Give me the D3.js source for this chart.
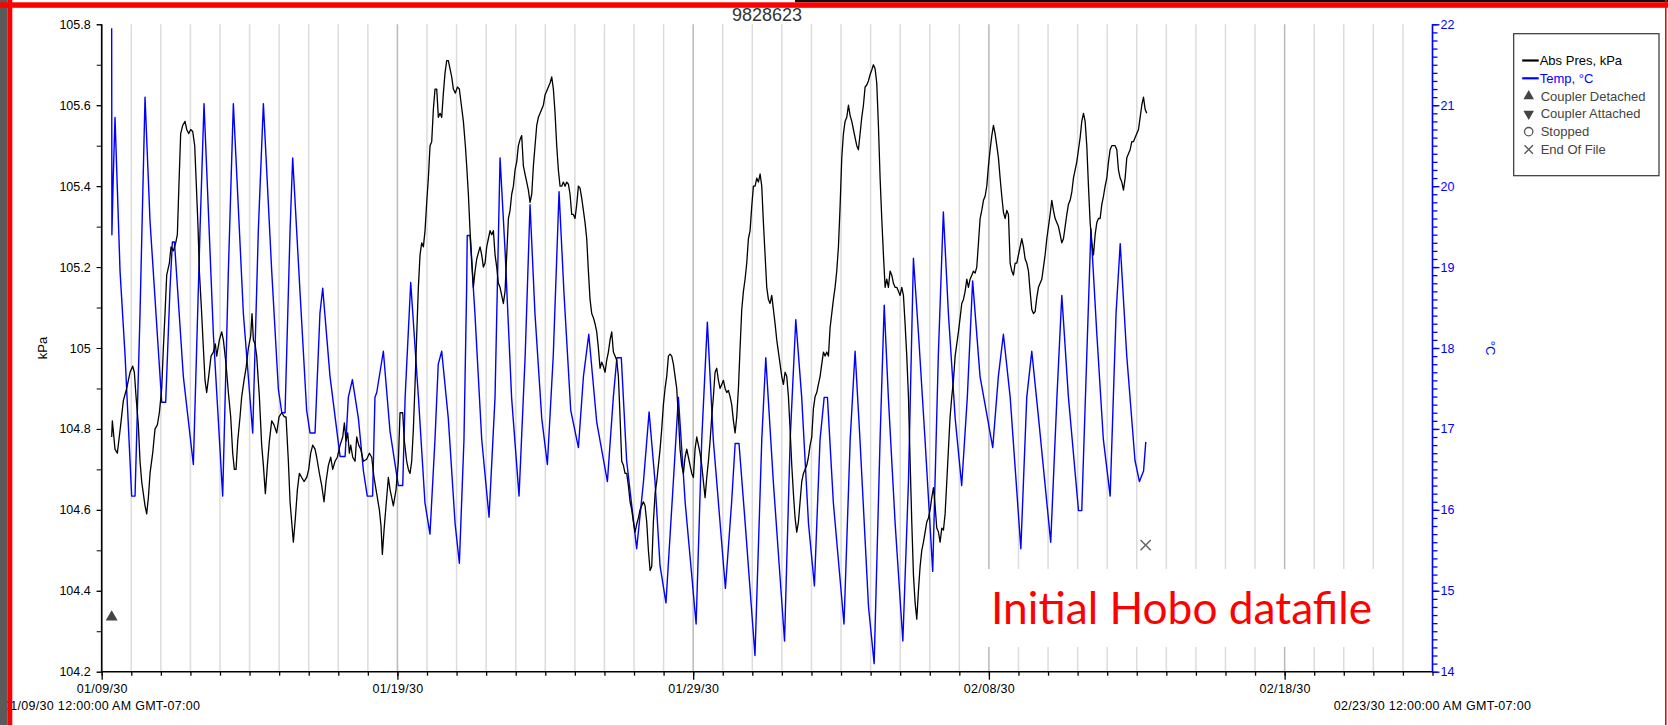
<!DOCTYPE html>
<html>
<head>
<meta charset="UTF-8">
<style>
body{
	margin: 0;
	background: #fff;
	font-family: "Liberation Sans", Arial, sans-serif;
}
svg{
	display: block;
}
.axis text{
	font-family: "Liberation Sans", Arial, sans-serif;
	font-size: 12.5px;
}
.axis path{
	display: none;
}
.x.axis text{
	letter-spacing: 0.3px;
}
.grid line{
	stroke-width: 1.5;
}
</style>
<script src="https://cdnjs.cloudflare.com/ajax/libs/d3/7.8.5/d3.min.js"></script>
</head>
<body>
<script>
// x tick labels, and the two full date stamps at each end of the axis
var dateTicks = ["01/09/30", "01/19/30", "01/29/30", "02/08/30", "02/18/30"];
var rangeLabels = ["01/09/30 12:00:00 AM GMT-07:00", "02/23/30 12:00:00 AM GMT-07:00"];
var kpaTicks = [104.2, 104.4, 104.6, 104.8, 105, 105.2, 105.4, 105.6, 105.8];
var tempTicks = [14, 15, 16, 17, 18, 19, 20, 21, 22];

// [days since 01/09/30 00:00, Abs Pres kPa]
var pressure = [
[0.338,104.78],[0.360,104.82],[0.450,104.75],[0.529,104.74],[0.642,104.81],[0.732,104.87],[0.845,104.90],[0.958,104.94],[1.048,104.955],[1.104,104.94],[1.161,104.88],[1.239,104.81],[1.296,104.72],[1.352,104.67],[1.465,104.61],[1.521,104.59],[1.578,104.63],[1.634,104.69],[1.724,104.74],[1.803,104.80],[1.882,104.81],[1.950,104.84],[2.029,104.90],[2.085,105.00],[2.141,105.085],[2.198,105.18],[2.288,105.21],[2.344,105.25],[2.423,105.24],[2.502,105.26],[2.558,105.28],[2.615,105.41],[2.671,105.53],[2.739,105.55],[2.818,105.56],[2.874,105.54],[2.942,105.53],[3.009,105.54],[3.077,105.535],[3.145,105.50],[3.190,105.42],[3.257,105.30],[3.302,105.19],[3.370,105.10],[3.438,105.00],[3.494,104.92],[3.550,104.89],[3.618,104.93],[3.697,104.98],[3.776,104.99],[3.843,105.01],[3.889,104.98],[3.979,105.02],[4.058,105.04],[4.114,105.02],[4.204,104.96],[4.283,104.89],[4.362,104.83],[4.430,104.74],[4.486,104.70],[4.543,104.70],[4.599,104.77],[4.678,104.83],[4.734,104.88],[4.813,104.92],[4.881,104.95],[4.960,105.00],[5.038,105.03],[5.083,105.085],[5.129,105.02],[5.185,105.01],[5.241,104.98],[5.331,104.88],[5.410,104.76],[5.467,104.71],[5.534,104.64],[5.602,104.71],[5.670,104.77],[5.748,104.82],[5.827,104.81],[5.918,104.79],[5.997,104.83],[6.087,104.84],[6.177,104.83],[6.233,104.83],[6.312,104.72],[6.369,104.62],[6.436,104.56],[6.481,104.52],[6.549,104.58],[6.617,104.65],[6.684,104.69],[6.763,104.68],[6.842,104.67],[6.932,104.68],[7.000,104.70],[7.067,104.74],[7.135,104.76],[7.214,104.75],[7.270,104.73],[7.361,104.69],[7.440,104.66],[7.518,104.62],[7.586,104.67],[7.665,104.71],[7.744,104.73],[7.812,104.70],[7.890,104.72],[7.969,104.73],[8.060,104.76],[8.150,104.78],[8.206,104.815],[8.262,104.77],[8.319,104.79],[8.375,104.74],[8.420,104.76],[8.488,104.73],[8.567,104.72],[8.623,104.78],[8.691,104.76],[8.759,104.75],[8.849,104.72],
[8.960,104.725],[9.051,104.74],[9.130,104.73],[9.208,104.68],[9.299,104.64],[9.389,104.60],[9.445,104.56],[9.490,104.49],[9.547,104.55],[9.614,104.61],[9.693,104.68],[9.750,104.65],[9.806,104.63],[9.862,104.61],[9.953,104.65],[10.031,104.72],[10.088,104.84],[10.178,104.84],[10.234,104.77],[10.313,104.72],[10.370,104.70],[10.426,104.69],[10.482,104.72],[10.539,104.80],[10.595,104.91],[10.651,105.03],[10.708,105.15],[10.764,105.23],[10.821,105.26],[10.877,105.25],[10.933,105.29],[10.990,105.36],[11.046,105.42],[11.102,105.50],[11.159,105.51],[11.215,105.59],[11.271,105.64],[11.328,105.64],[11.384,105.57],[11.441,105.58],[11.497,105.57],[11.553,105.63],[11.610,105.68],[11.666,105.71],[11.722,105.71],[11.779,105.69],[11.835,105.67],[11.891,105.64],[11.959,105.63],[12.027,105.645],[12.094,105.64],[12.162,105.60],[12.230,105.56],[12.297,105.50],[12.342,105.45],[12.399,105.38],[12.455,105.29],[12.511,105.22],[12.568,105.15],[12.624,105.19],[12.681,105.22],[12.737,105.235],[12.793,105.25],[12.850,105.23],[12.906,105.20],[12.962,105.21],[13.019,105.25],[13.075,105.27],[13.132,105.29],[13.188,105.28],[13.244,105.29],[13.301,105.23],[13.357,105.20],[13.413,105.16],[13.470,105.15],[13.526,105.13],[13.582,105.11],[13.639,105.14],[13.695,105.23],[13.752,105.32],[13.808,105.34],[13.864,105.38],[13.921,105.40],[13.977,105.44],[14.033,105.46],[14.090,105.50],[14.146,105.515],[14.202,105.525],[14.259,105.45],[14.315,105.43],[14.372,105.41],[14.428,105.39],[14.484,105.36],[14.541,105.38],[14.597,105.45],[14.653,105.50],[14.710,105.55],[14.766,105.57],[14.822,105.58],[14.879,105.59],[14.935,105.60],[14.991,105.625],[15.048,105.635],[15.104,105.645],[15.161,105.655],[15.217,105.67],[15.273,105.64],[15.330,105.58],[15.386,105.50],[15.442,105.44],[15.499,105.40],[15.555,105.40],[15.611,105.41],[15.668,105.40],[15.724,105.41],[15.781,105.405],[15.837,105.38],[15.893,105.33],[15.950,105.33],[16.006,105.32],[16.063,105.355],[16.119,105.40],[16.175,105.395],[16.232,105.37],[16.288,105.34],[16.344,105.31],[16.401,105.27],[16.457,105.19],[16.513,105.12],[16.570,105.085],[16.626,105.075],[16.682,105.06],[16.739,105.04],[16.795,105.00],[16.852,104.95],[16.908,104.965],[16.964,104.955],[17.021,104.94],[17.077,104.97],[17.133,104.99],[17.190,105.02],[17.246,105.04],[17.302,104.99],[17.359,104.98],[17.415,104.97],[17.471,104.93],[17.528,104.83],[17.584,104.72],[17.641,104.71],[17.697,104.69],
[17.753,104.69],[17.810,104.66],[17.866,104.62],[17.923,104.60],[17.979,104.57],[18.035,104.545],[18.092,104.565],[18.148,104.58],[18.204,104.60],[18.261,104.61],[18.317,104.62],[18.373,104.61],[18.430,104.57],[18.486,104.50],[18.543,104.45],[18.599,104.46],[18.655,104.57],[18.712,104.64],[18.768,104.67],[18.824,104.71],[18.881,104.75],[18.937,104.80],[18.993,104.86],[19.050,104.90],[19.106,104.93],[19.163,104.98],[19.219,104.985],[19.275,104.98],[19.332,104.96],[19.388,104.93],[19.444,104.90],[19.501,104.83],[19.557,104.75],[19.613,104.71],[19.670,104.69],[19.726,104.73],[19.783,104.75],[19.839,104.73],[19.895,104.71],[19.952,104.69],[20.008,104.68],[20.064,104.75],[20.121,104.78],[20.177,104.76],[20.233,104.74],[20.290,104.71],[20.346,104.67],[20.403,104.63],[20.459,104.68],[20.515,104.72],[20.572,104.77],[20.628,104.83],[20.684,104.88],[20.741,104.94],[20.797,104.95],[20.854,104.92],[20.910,104.90],[20.966,104.91],[21.023,104.92],[21.079,104.90],[21.135,104.89],[21.192,104.895],[21.248,104.88],[21.304,104.86],[21.361,104.82],[21.417,104.79],[21.474,104.83],[21.530,104.90],[21.586,105.00],[21.643,105.095],[21.699,105.14],[21.755,105.17],[21.812,105.21],[21.868,105.27],[21.924,105.29],[21.981,105.35],[22.037,105.40],[22.094,105.40],[22.150,105.42],[22.206,105.41],[22.263,105.43],[22.319,105.40],[22.375,105.31],[22.432,105.23],[22.488,105.15],[22.544,105.12],[22.601,105.11],[22.657,105.13],[22.714,105.095],[22.770,105.06],[22.826,105.02],[22.883,104.99],[22.939,104.96],[22.995,104.93],[23.052,104.91],[23.108,104.94],[23.164,104.93],[23.221,104.88],[23.277,104.80],[23.334,104.71],[23.390,104.64],[23.446,104.58],[23.503,104.545],[23.559,104.57],[23.615,104.62],[23.672,104.67],[23.728,104.69],[23.784,104.70],[23.841,104.71],[23.897,104.73],[23.954,104.76],[24.010,104.78],[24.066,104.85],[24.123,104.88],[24.179,104.89],[24.235,104.91],[24.292,104.93],[24.348,104.96],[24.405,104.99],[24.461,104.98],[24.517,104.99],[24.574,104.98],[24.630,105.05],[24.686,105.085],[24.743,105.12],[24.799,105.15],[24.855,105.19],[24.912,105.25],[24.968,105.35],[25.025,105.47],[25.081,105.53],[25.137,105.56],[25.194,105.57],[25.250,105.60],[25.306,105.575],[25.363,105.56],[25.419,105.54],[25.475,105.52],[25.532,105.50],[25.588,105.49],[25.645,105.53],[25.701,105.57],[25.757,105.60],[25.814,105.645],[25.870,105.65],[25.926,105.66],[25.983,105.676],[26.039,105.687],[26.095,105.70],[26.152,105.69],[26.208,105.655],[26.264,105.55],[26.321,105.42],[26.377,105.32],[26.434,105.23],
[26.490,105.15],[26.546,105.17],[26.603,105.15],[26.659,105.19],[26.716,105.18],[26.772,105.16],[26.828,105.15],[26.885,105.15],[26.941,105.14],[26.997,105.13],[27.054,105.15],[27.110,105.13],[27.166,105.06],[27.223,104.98],[27.279,104.88],[27.336,104.72],[27.392,104.57],[27.448,104.44],[27.505,104.37],[27.561,104.33],[27.617,104.40],[27.674,104.46],[27.730,104.50],[27.787,104.52],[27.843,104.545],[27.899,104.57],[27.956,104.58],[28.012,104.60],[28.068,104.63],[28.125,104.655],[28.181,104.61],[28.237,104.555],[28.294,104.545],[28.350,104.52],[28.407,104.555],[28.463,104.55],[28.519,104.59],[28.576,104.67],[28.632,104.75],[28.688,104.83],[28.745,104.88],[28.801,104.92],[28.858,104.98],[28.914,105.01],[28.970,105.04],[29.027,105.075],[29.083,105.11],[29.139,105.12],[29.196,105.14],[29.252,105.17],[29.308,105.15],[29.365,105.17],[29.421,105.18],[29.478,105.19],[29.534,105.185],[29.590,105.20],[29.647,105.26],[29.703,105.32],[29.759,105.34],[29.816,105.365],[29.872,105.375],[29.928,105.40],[29.985,105.45],[30.041,105.49],[30.098,105.525],[30.154,105.55],[30.210,105.53],[30.267,105.50],[30.323,105.47],[30.379,105.42],[30.436,105.375],[30.492,105.335],[30.549,105.32],[30.605,105.34],[30.661,105.33],[30.718,105.21],[30.774,105.19],[30.830,105.18],[30.887,105.21],[30.943,105.21],[30.999,105.23],[31.056,105.25],[31.112,105.27],[31.169,105.25],[31.225,105.22],[31.281,105.21],[31.338,105.19],[31.394,105.14],[31.450,105.095],[31.507,105.085],[31.563,105.09],[31.620,105.125],[31.676,105.15],[31.732,105.16],[31.789,105.17],[31.845,105.20],[31.901,105.23],[31.958,105.27],[32.014,105.30],[32.070,105.33],[32.127,105.365],[32.183,105.34],[32.240,105.32],[32.296,105.31],[32.352,105.30],[32.409,105.28],[32.465,105.26],[32.521,105.27],[32.578,105.30],[32.634,105.33],[32.690,105.355],[32.747,105.365],[32.803,105.385],[32.859,105.42],[32.916,105.44],[32.972,105.46],[33.029,105.49],[33.085,105.52],[33.141,105.56],[33.198,105.58],[33.254,105.56],[33.310,105.50],[33.367,105.40],[33.423,105.31],[33.479,105.26],[33.536,105.23],[33.592,105.28],[33.649,105.31],[33.705,105.32],[33.761,105.32],[33.818,105.355],[33.874,105.375],[33.930,105.40],[33.987,105.42],[34.043,105.46],[34.099,105.49],[34.156,105.50],[34.212,105.50],[34.269,105.50],[34.325,105.49],[34.381,105.44],[34.438,105.42],[34.494,105.41],[34.550,105.39],[34.607,105.42],[34.663,105.47],[34.719,105.48],[34.776,105.49],[34.832,105.51],[34.888,105.51],[34.945,105.52],[35.001,105.53],[35.058,105.54],[35.114,105.57],[35.170,105.60],[35.227,105.62],[35.283,105.59],[35.339,105.58]
];

// [days since 01/09/30 00:00, Temp °C]
var temperature = [
[0.337,21.95],[0.345,19.40],[0.39,20.10],[0.45,20.85],[0.62,18.95],[0.79,17.91],[1.014,16.17],[1.127,16.17],[1.296,18.43],[1.465,21.10],[1.634,19.57],[2.029,17.33],[2.164,17.33],[2.31,18.74],[2.39,19.31],[2.46,19.31],[2.76,17.65],[3.099,16.56],[3.325,19.46],[3.46,21.02],[3.776,18.17],[4.091,16.17],[4.283,18.95],[4.452,21.02],[4.79,18.43],[5.106,16.95],[5.297,19.46],[5.467,21.02],[5.749,18.95],[5.974,17.49],[6.09,17.2],[6.2,17.2],[6.37,19.46],[6.458,20.35],[6.706,18.69],[6.93,17.23],[7.044,16.95],[7.214,16.95],[7.38,18.43],[7.473,18.74],[7.72,17.65],[8.06,16.66],[8.23,16.66],[8.34,17.39],[8.477,17.61],[8.68,17.13],[8.85,16.48],
[8.98,16.17],[9.16,16.17],[9.24,17.39],[9.30,17.45],[9.524,17.96],[9.75,16.97],[10.03,16.3],[10.18,16.3],[10.26,17.39],[10.449,18.81],[10.71,17.39],[10.93,16.09],[11.10,15.70],[11.27,16.87],[11.38,17.80],[11.497,17.96],[11.72,17.13],[11.95,15.83],[12.094,15.34],[12.25,16.87],[12.34,18.74],[12.36,19.39],[12.455,19.39],[12.62,18.43],[12.85,16.87],[13.098,15.91],[13.30,17.39],[13.47,20.35],[13.64,19.2],[13.86,17.39],[14.112,16.17],[14.32,17.91],[14.484,19.77],[14.65,18.43],[14.88,17.13],[15.07,16.56],[15.27,17.91],[15.465,19.93],[15.63,18.69],[15.86,17.23],[16.12,16.77],[16.29,17.65],[16.47,18.17],[16.74,17.08],[17.10,16.35],[17.30,17.39],[17.42,17.88],[17.57,17.88],
[17.75,16.61],[18.09,15.52],[18.32,16.35],[18.51,17.21],[18.71,16.35],[18.88,15.31],[19.08,14.85],[19.33,16.35],[19.50,17.39],[19.73,16.09],[20.10,14.59],[20.29,16.87],[20.48,18.32],[20.68,16.87],[21.09,15.03],[21.30,16.09],[21.42,16.82],[21.55,16.82],[21.76,15.83],[22.09,14.20],[22.32,16.87],[22.455,17.88],[22.71,16.35],[23.09,14.38],[23.28,16.87],[23.47,18.35],[23.67,17.39],[23.90,15.83],[24.10,15.06],[24.29,16.87],[24.43,17.39],[24.54,17.39],[24.74,16.09],[25.10,14.59],[25.31,16.87],[25.475,17.96],[25.64,16.87],[25.93,14.80],[26.12,14.10],[26.32,16.87],
[26.46,18.53],[26.60,17.39],[26.83,15.83],[27.09,14.38],[27.28,16.35],[27.448,19.11],[27.62,18.17],[27.84,16.87],[28.10,15.24],[28.29,17.91],[28.46,19.68],[28.63,18.43],[28.86,17.13],[29.08,16.30],[29.27,17.39],[29.45,18.83],[29.70,17.65],[30.13,16.77],[30.32,17.65],[30.49,18.17],[30.72,17.39],[31.08,15.52],[31.28,17.39],[31.45,17.96],[31.68,17.13],[32.09,15.60],[32.30,17.39],[32.465,18.65],[32.69,17.39],[33.03,15.99],[33.14,15.99],[33.31,17.91],[33.45,19.47],[33.65,18.17],[33.87,16.87],[34.10,16.17],[34.30,18.43],[34.44,19.29],[34.66,17.91],[34.94,16.61],[35.09,16.35],[35.23,16.48],[35.305,16.84]
];

// logger events drawn on the pressure scale
var eventNames = ["Coupler Detached", "End Of File"];
var eventDays = [0.337, 35.30];
var eventKpa = [104.335, 104.513];

var legendLabels = ["Abs Pres, kPa", "Temp, \u00B0C", "Coupler Detached", "Coupler Attached", "Stopped", "End Of File"];

var W = 1668, H = 726;
var margin = {top: 24.3, right: 235.5, bottom: 54.3, left: 101.7};
var width = W - margin.left - margin.right,
	height = H - margin.top - margin.bottom;

var parse = d3.utcParse("%m/%d/%y");
var start = parse(rangeLabels[0].slice(0, 8)),
	end = parse(rangeLabels[1].slice(0, 8));
function toDate(day){ return new Date(start.getTime() + day * 864e5); }

var x = d3.scaleUtc().domain([start, end]).range([0, width]);
var yP = d3.scaleLinear().domain([104.2, 105.8]).range([height, 0]);
var yT = d3.scaleLinear().domain([14, 22]).range([height, 0]);

var svg = d3.select("body").append("svg")
	.attr("width", W)
	.attr("height", H);

var g = svg.append("g")
	.attr("transform", "translate(" + margin.left + "," + margin.top + ")");

// day gridlines
var majorDays = dateTicks.map(function(s){ return +parse(s); });
g.append("g").attr("class", "grid")
	.selectAll("line")
	.data(d3.utcDay.range(start, d3.utcDay.offset(end, 1)))
	.enter().append("line")
	.attr("x1", function(d){ return x(d); })
	.attr("x2", function(d){ return x(d); })
	.attr("y1", 0)
	.attr("y2", height)
	.attr("stroke", function(d){ return majorDays.indexOf(+d) >= 0 ? "#b9b9b9" : "#dcdcdc"; });

// white box behind the annotation
svg.append("rect")
	.attr("x", 985).attr("y", 569)
	.attr("width", 400).attr("height", 78)
	.attr("fill", "#fff");

svg.append("text")
	.attr("x", 991).attr("y", 624)
	.attr("textLength", 381)
	.attr("lengthAdjust", "spacingAndGlyphs")
	.style("font-family", "Lato, 'Open Sans', sans-serif")
	.style("font-size", "44px")
	.attr("fill", "#ff0000")
	.text("Initial Hobo datafile");

// series
var lineP = d3.line()
	.x(function(d){ return x(toDate(d[0])); })
	.y(function(d){ return yP(d[1]); });
var lineT = d3.line()
	.x(function(d){ return x(toDate(d[0])); })
	.y(function(d){ return yT(d[1]); });

g.append("path")
	.datum(temperature)
	.attr("d", lineT)
	.attr("fill", "none")
	.attr("stroke", "#0000ff")
	.attr("stroke-width", 1.4)
	.attr("stroke-linejoin", "round");

g.append("path")
	.datum(pressure)
	.attr("d", lineP)
	.attr("fill", "none")
	.attr("stroke", "#000")
	.attr("stroke-width", 1.3)
	.attr("stroke-linejoin", "round");

// event markers
g.append("path")
	.attr("d", d3.symbol().type(d3.symbolTriangle).size(62)())
	.attr("transform", "translate(" + x(toDate(eventDays[0])) + "," + yP(eventKpa[0]) + ")")
	.attr("fill", "#444");
g.append("path")
	.attr("d", d3.symbol().type(d3.symbolTimes).size(70)())
	.attr("transform", "translate(" + x(toDate(eventDays[1])) + "," + yP(eventKpa[1]) + ")")
	.attr("fill", "none")
	.attr("stroke", "#666")
	.attr("stroke-width", 1.5);

// left axis
g.append("g").attr("class", "y axis")
	.call(d3.axisLeft(yP).ticks(16).tickSize(5).tickFormat(""));
g.append("g").attr("class", "y axis")
	.call(d3.axisLeft(yP).tickValues(kpaTicks).tickSize(5).tickPadding(6).tickFormat(function(d){ return d; }));
g.append("line")
	.attr("x1", 0).attr("x2", 0).attr("y1", 0).attr("y2", height)
	.attr("stroke", "#000").attr("stroke-width", 1.6);

// right axis
var right = g.append("g").attr("transform", "translate(" + width + ",0)");
right.append("g").attr("class", "t axis")
	.call(d3.axisRight(yT).ticks(80).tickSize(5).tickFormat(""));
right.append("g").attr("class", "t axis")
	.call(d3.axisRight(yT).tickValues(tempTicks).tickSize(7).tickPadding(1));
right.append("line")
	.attr("x1", 0).attr("x2", 0).attr("y1", 0).attr("y2", height)
	.attr("stroke", "#0000ff").attr("stroke-width", 1.6);
right.selectAll(".tick line").attr("stroke", "#0000ff").attr("stroke-width", 1.3);
right.selectAll(".tick text").attr("fill", "#0000ff");

// bottom axis
var bottom = g.append("g").attr("transform", "translate(0," + height + ")");
bottom.append("g").attr("class", "x axis")
	.call(d3.axisBottom(x).ticks(d3.utcDay.every(1)).tickSize(4).tickFormat(""));
bottom.append("g").attr("class", "x axis")
	.call(d3.axisBottom(x).tickValues(dateTicks.map(parse)).tickSize(8).tickPadding(4.5).tickFormat(d3.utcFormat("%m/%d/%y")));
bottom.append("line")
	.attr("x1", 0).attr("x2", width)
	.attr("stroke", "#000").attr("stroke-width", 1.6);
bottom.selectAll(".tick line").attr("stroke-width", 1.3);

bottom.selectAll(".range-label")
	.data([start, end])
	.enter().append("text")
	.attr("class", "range-label")
	.attr("x", function(d){ return x(d); })
	.attr("y", 38.5)
	.attr("text-anchor", "middle")
	.style("font-size", "12.5px")
	.style("letter-spacing", "0.3px")
	.text(function(d, i){ return rangeLabels[i]; });

// axis titles
svg.append("text")
	.attr("transform", "translate(47,348) rotate(-90)")
	.attr("text-anchor", "middle")
	.style("font-size", "13px")
	.text("kPa");
svg.append("text")
	.attr("transform", "translate(1486,348) rotate(90)")
	.attr("text-anchor", "middle")
	.style("font-size", "13px")
	.attr("fill", "#0000ff")
	.text("\u00B0C");

svg.append("text")
	.attr("x", margin.left + width / 2)
	.attr("y", 21)
	.attr("text-anchor", "middle")
	.style("font-size", "18px")
	.attr("fill", "#333")
	.text("9828623");

// legend
var legend = svg.append("g").attr("transform", "translate(1513.7,33.7)");
legend.append("rect")
	.attr("width", 145.3).attr("height", 142)
	.attr("fill", "#fff").attr("stroke", "#333").attr("stroke-width", 1.2);
var rows = legend.selectAll(".row")
	.data(legendLabels)
	.enter().append("g")
	.attr("class", "row")
	.attr("transform", function(d, i){ return "translate(0," + (31.3 + i * 17.8) + ")"; });
rows.append("text")
	.attr("x", function(d, i){ return i < 2 ? 26 : 27; })
	.style("font-size", "13px")
	.attr("fill", function(d, i){ return i === 0 ? "#000" : i === 1 ? "#0000ff" : "#444"; })
	.text(function(d){ return d; });
rows.filter(function(d, i){ return i < 2; })
	.append("line")
	.attr("x1", 8.5).attr("x2", 25).attr("y1", -4.5).attr("y2", -4.5)
	.attr("stroke", function(d, i){ return i === 0 ? "#000" : "#0000ff"; })
	.attr("stroke-width", 2.2);
var symTypes = [null, null, d3.symbolTriangle, d3.symbolTriangle, d3.symbolCircle, d3.symbolTimes];
rows.filter(function(d, i){ return i >= 2; })
	.append("path")
	.attr("d", function(d, i){ return d3.symbol().type(symTypes[i + 2]).size(i === 2 ? 55 : 48)(); })
	.attr("transform", function(d, i){ return "translate(15,-4.5)" + (i === 1 ? " rotate(180)" : ""); })
	.attr("fill", function(d, i){ return i < 2 ? "#444" : "none"; })
	.attr("stroke", function(d, i){ return i < 2 ? "none" : "#555"; })
	.attr("stroke-width", 1.3);

// screenshot frame
svg.append("rect").attr("x", 0).attr("y", 0).attr("width", 7.3).attr("height", H).attr("fill", "#5a5a5a");
svg.append("rect").attr("x", 7.3).attr("y", 0).attr("width", 5).attr("height", H).attr("fill", "#ff0000");
svg.append("rect").attr("x", 795).attr("y", 0).attr("width", W - 795).attr("height", 2.3).attr("fill", "#111");
svg.append("rect").attr("x", 0).attr("y", 2.3).attr("width", W).attr("height", 5.5).attr("fill", "#ff0000");
svg.append("rect").attr("x", 1665).attr("y", 0).attr("width", 1.6).attr("height", H).attr("fill", "#ff0000");
svg.append("rect").attr("x", 0).attr("y", 725).attr("width", W).attr("height", 1).attr("fill", "#ddd");
</script>
</body>
</html>
